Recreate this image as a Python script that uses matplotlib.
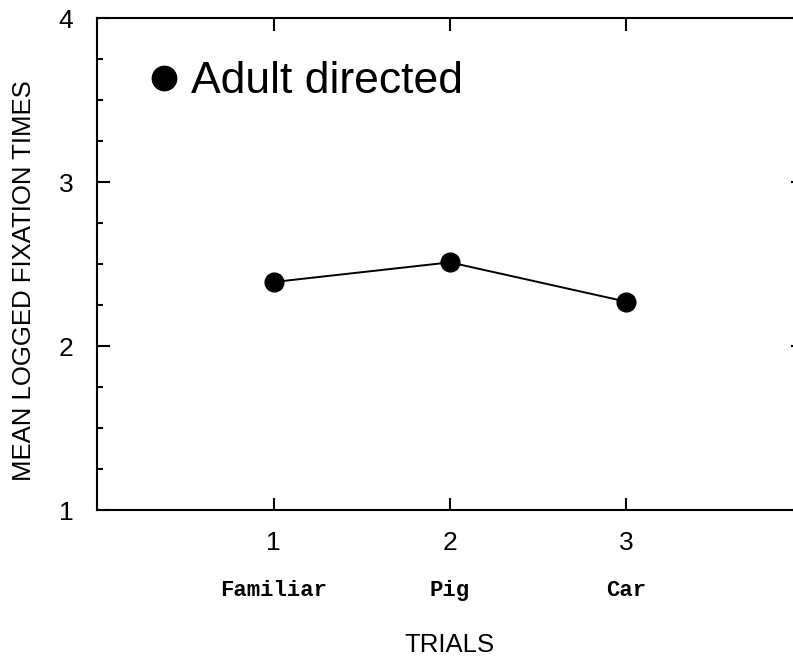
import matplotlib.pyplot as plt
from matplotlib.ticker import MultipleLocator, FixedLocator

# data
trials = [1, 2, 3]
fixation = [2.39, 2.51, 2.27]
trial_names = ["Familiar", "Pig", "Car"]
yticks = [1, 2, 3, 4]

plt.rcParams["font.family"] = ["Liberation Sans", "DejaVu Sans"]

fig = plt.figure(figsize=(7.93, 6.56), dpi=100)
ax = fig.add_axes([97 / 793, 1 - 510 / 656, 706 / 793, 492 / 656])

ax.plot(trials, fixation, color="black", linewidth=1.4, marker="o",
        markersize=13.5, label="Adult directed")

ax.set_xlim(0, 4)
ax.set_ylim(1, 4)
ax.xaxis.set_major_locator(FixedLocator(trials))
ax.yaxis.set_major_locator(FixedLocator(yticks))
ax.yaxis.set_minor_locator(MultipleLocator(0.25))

for s in ax.spines.values():
    s.set_linewidth(1.5)

ax.tick_params(axis="both", which="major", direction="in", length=9,
               width=1.5, top=True, right=True, labelsize=19)
ax.tick_params(axis="y", which="minor", direction="in", length=4.5,
               width=1.5, right=False)
ax.tick_params(axis="y", which="major", pad=17)
ax.tick_params(axis="x", which="major", pad=15)

for x, name in zip(trials, trial_names):
    ax.text(x, -0.163, name, transform=ax.get_xaxis_transform(),
            ha="center", va="center", fontsize=16, fontweight="bold",
            family="Liberation Mono")

ax.set_ylabel("MEAN LOGGED FIXATION TIMES", fontsize=18.5)
ax.yaxis.set_label_coords(-0.086, 0.467)
ax.set_xlabel("TRIALS", fontsize=18.5, va="center")
ax.xaxis.set_label_coords(0.4986, -0.275)

ax.legend(loc="center left", bbox_to_anchor=(0.07, 0.87), frameon=False,
          handlelength=0, handletextpad=0.6, markerscale=1.3, fontsize=32,
          borderaxespad=0)

fig.savefig("out.png", dpi=100)
